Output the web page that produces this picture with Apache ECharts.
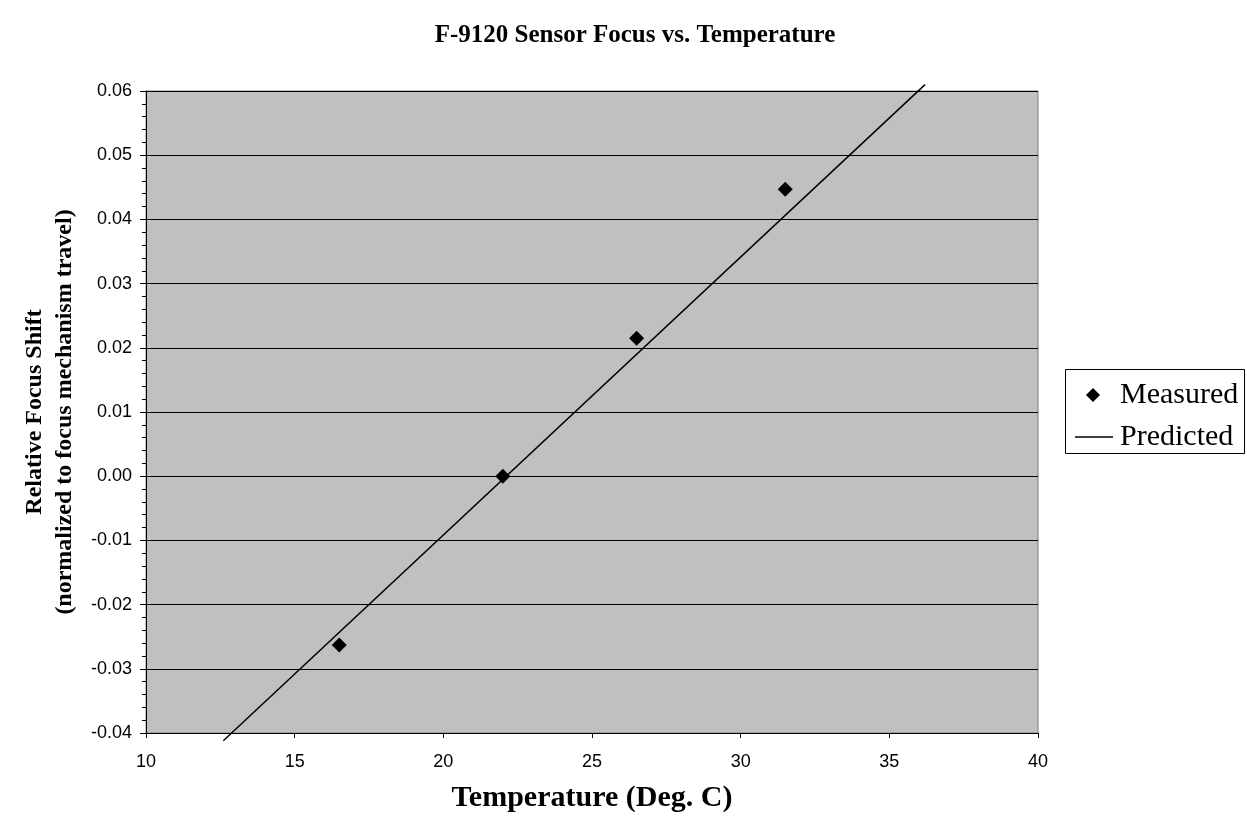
<!DOCTYPE html>
<html><head><meta charset="utf-8">
<script src="https://cdn.jsdelivr.net/npm/echarts@6/dist/echarts.min.js"></script>
<style>html,body{margin:0;padding:0;background:#fff}#c{width:1247px;height:821px}</style>
</head><body><div id="c"></div>
<script>
const measuredTemp = [16.5, 22, 26.5, 31.5];
const measuredShift = [-0.0263, 0.0, 0.0215, 0.0447];
const predictedTemp = [12.6, 36.2];
const predictedShift = [-0.0412, 0.0610];
const titleText = 'F-9120 Sensor Focus vs. Temperature';
const xName = 'Temperature (Deg. C)';
const yName = 'Relative Focus Shift\n(normalized to focus mechanism travel)';

const chart = echarts.init(document.getElementById('c'), null, {renderer:'canvas'});
const serif = '"Liberation Serif","Times New Roman",serif';
const sans = '"Liberation Sans",Arial,sans-serif';
chart.setOption({
  animation:false,
  title:{text:titleText,left:630,textAlign:'center',top:18,
    textStyle:{fontFamily:serif,fontWeight:'bold',fontSize:25,color:'#000'}},
  grid:{left:146,top:91,width:892,height:642,containLabel:false,outerBoundsMode:'none',
    show:true,backgroundColor:'#c0c0c0',borderColor:'#808080',borderWidth:1},
  graphic:[{type:'rect',shape:{x:1065.5,y:369.5,width:179,height:84},
    style:{fill:'#fff',stroke:'#000',lineWidth:1},z:-1}],
  legend:[
    {left:1086,top:380,padding:0,itemWidth:14,itemHeight:14,
     textStyle:{fontFamily:serif,fontSize:30,color:'#000',lineHeight:30,padding:[0,0,0,15]},
     data:[{name:'Measured',icon:'diamond',itemStyle:{color:'#000',opacity:1}}]},
    {left:1075,top:422,padding:0,itemWidth:38,itemHeight:1.5,
     textStyle:{fontFamily:serif,fontSize:30,color:'#000',lineHeight:30,padding:[0,0,0,2]},
     data:[{name:'Predicted',icon:'rect',itemStyle:{color:'#000'}}]}
  ],
  xAxis:{type:'value',min:10,max:40,interval:5,
    axisLine:{show:true,onZero:false,lineStyle:{color:'#000'}},
    axisTick:{show:true,length:5,lineStyle:{color:'#000'}},
    axisLabel:{fontFamily:sans,fontSize:18,color:'#000',margin:20},
    splitLine:{show:false},
    name:xName,nameLocation:'middle',nameGap:50,
    nameTextStyle:{fontFamily:serif,fontWeight:'bold',fontSize:30,color:'#000'}},
  yAxis:{type:'value',min:-0.04,max:0.06,interval:0.01,
    axisLine:{show:true,onZero:false,lineStyle:{color:'#000'}},
    axisTick:{show:true,length:6,lineStyle:{color:'#000'}},
    minorTick:{show:true,splitNumber:5,length:4,lineStyle:{color:'#000'}},
    axisLabel:{fontFamily:sans,fontSize:18,color:'#000',margin:14,formatter:v=>v.toFixed(2)},
    splitLine:{show:true,lineStyle:{color:'#000',width:1}},
    name:yName,nameLocation:'middle',nameGap:66,nameRotate:90,
    nameTextStyle:{fontFamily:serif,fontWeight:'bold',fontSize:24,color:'#000',lineHeight:30}},
  series:[
    {name:'Measured',type:'scatter',symbol:'diamond',symbolSize:15,itemStyle:{color:'#000',opacity:1},
      data:measuredTemp.map((t,i)=>[t,measuredShift[i]]),z:5},
    {name:'Predicted',type:'line',clip:false,showSymbol:false,symbol:'none',
      lineStyle:{color:'#000',width:1.5},itemStyle:{color:'#000'},
      data:predictedTemp.map((t,i)=>[t,predictedShift[i]]),z:4}
  ]
});
</script></body></html>
